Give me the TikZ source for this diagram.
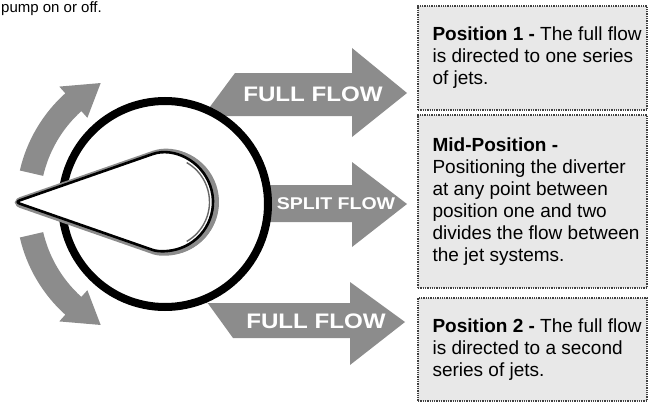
\documentclass[tikz,border=0pt]{standalone}
\usepackage{fontspec}
\setmainfont{Liberation Sans}
\newfontfamily\lblfont{Liberation Sans}[FakeStretch=1.15]
\begin{document}
\begin{tikzpicture}[x=1pt,y=-1pt,
  arrowgray/.style={fill=black!45},
  flowlabel/.style={text=white, inner sep=0pt},
  infobox/.style={draw=black!75, fill=black!9, line width=1.3pt, densely dotted, minimum width=229pt, inner sep=0pt},
  infotext/.style={align=left, font=\fontsize{19}{22}\selectfont, inner sep=0pt, anchor=west}]
\useasboundingbox (0,0) rectangle (650,404);

% caption fragment
\node[anchor=base west, inner sep=0pt, font=\fontsize{15}{17}\selectfont] (cap) at (1,13) {pump on or off.};

% curved rotation arrows
\fill[arrowgray, shift={(165,204)}] (193:125) -- (193:149) arc[start angle=193, end angle=228, radius=149]
  -- (228:158) -- (242:137) -- (228:116) -- (228:125) arc[start angle=228, end angle=193, radius=125] -- cycle;
\fill[arrowgray, shift={(165,204)}] (167:125) -- (167:149) arc[start angle=167, end angle=132, radius=149]
  -- (132:158) -- (118:137) -- (132:116) -- (132:125) arc[start angle=132, end angle=167, radius=125] -- cycle;

% flow arrows
\fill[arrowgray] (175,154) -- (235,73) -- (352,73) -- (352,48) -- (407,93) -- (352,137) -- (352,116) -- (200,116) -- cycle;
\fill[arrowgray] (165,185) -- (352,185) -- (352,162) -- (407,204) -- (352,247) -- (352,222) -- (165,222) -- cycle;
\fill[arrowgray] (178,262) -- (233,338) -- (350,338) -- (350,365) -- (405,322) -- (350,282) -- (350,303) -- (200,303) -- cycle;

% dial ring
\node[circle, draw=black, line width=8pt, fill=white, minimum size=206pt, inner sep=0pt] (dial) at (165,204) {};

% knob
\draw[black!45, line width=8pt, rounded corners=5pt, shift={(165.5,202.5)}]
  (-149,0) -- (250.8:49) arc[start angle=250.8, end angle=469.2, radius=49] -- cycle;
\draw[black!45, line width=6pt, shift={(166,202)}] (-80:50) arc[start angle=-80, end angle=80, radius=50];
\draw[black, line width=2.6pt, fill=white, rounded corners=5pt, shift={(164,202)}]
  (-149,0) -- (250.8:49) arc[start angle=250.8, end angle=469.2, radius=49] -- cycle;
\draw[black!60, line width=1.4pt, shift={(164,202)}] (-60:45.5) arc[start angle=-60, end angle=60, radius=45.5];

% arrow labels
\node[flowlabel, font=\lblfont\bfseries\fontsize{21}{21}\selectfont] (l1) at (313,94) {FULL FLOW};
\node[flowlabel, font=\lblfont\bfseries\fontsize{17}{17}\selectfont] (l2) at (336,204) {SPLIT FLOW};
\node[flowlabel, font=\lblfont\bfseries\fontsize{21}{21}\selectfont] (l3) at (316,321) {FULL FLOW};

% info boxes
\node[infobox, minimum height=104pt] (b1) at (532.5,58) {};
\node[infobox, minimum height=173pt] (b2) at (532.5,201.5) {};
\node[infobox, minimum height=103pt] (b3) at (532.5,349.5) {};
\node[infotext] (t1) at ([xshift=15pt]b1.west) {\textbf{Position 1 -} The full flow\\is directed to one series\\of jets.};
\node[infotext] (t2) at ([xshift=15pt]b2.west) {\textbf{Mid-Position -}\\Positioning the diverter\\at any point between\\position one and two\\divides the flow between\\the jet systems.};
\node[infotext] (t3) at ([xshift=15pt]b3.west) {\textbf{Position 2 -} The full flow\\is directed to a second\\series of jets.};
\end{tikzpicture}
\end{document}
